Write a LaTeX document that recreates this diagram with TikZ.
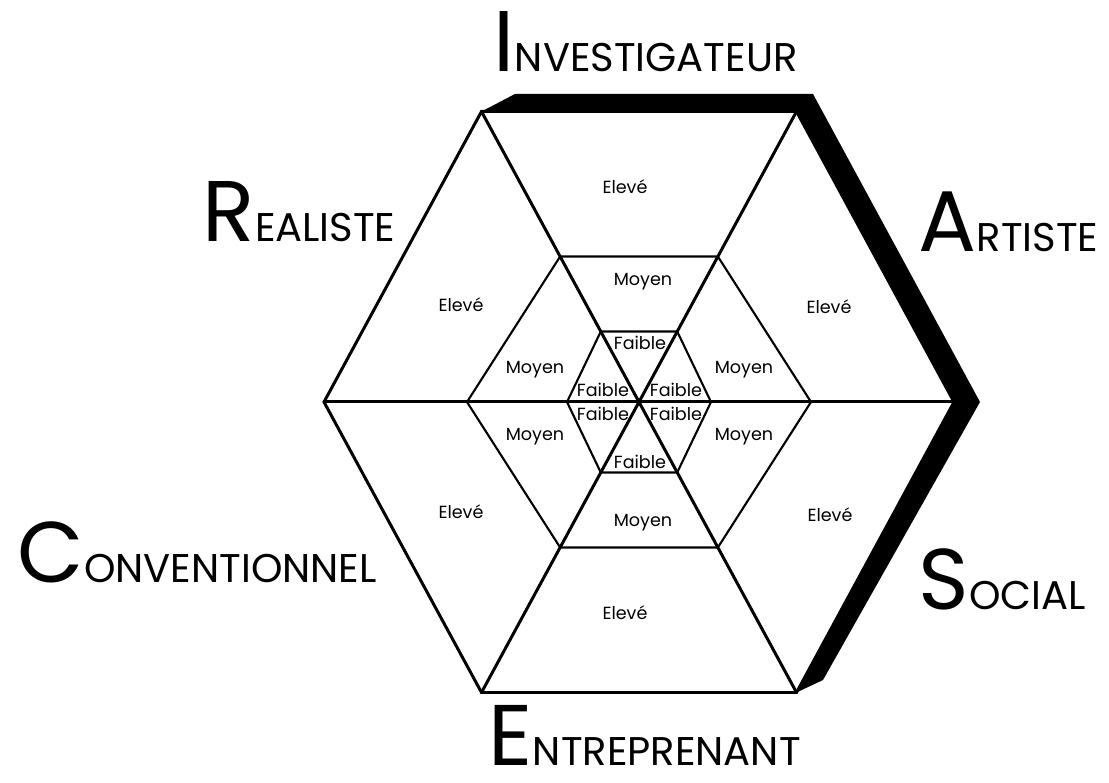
\documentclass[tikz,border=0pt]{standalone}
\usepackage{fontspec}
\setmainfont{Poppins}
\usetikzlibrary{calc}

% type name: large initial, small capitals after it
\newcommand{\typename}[2]{{\fontsize{24.5}{25}\selectfont #1}{\fontsize{11.4}{12}\selectfont #2}}

\begin{document}
\begin{tikzpicture}[
  rim/.style={line width=0.85pt, line join=miter},
  ring/.style={line width=0.6pt, line join=miter},
  band/.style={fill=black},
  lvl/.style={font=\fontsize{5}{6}\selectfont, inner sep=0pt},
  typ/.style={anchor=base west, inner sep=0pt, text depth=0pt},
]
  \useasboundingbox (-6.39,-3.81) rectangle (4.70,4.02);

  % --- thick band along the top and right side -----------------------
  \fill[band] (-1.575,2.905) -- (-1.24,3.08) -- (1.74,3.08) -- (3.41,0)
    -- (1.84,-2.78) -- (1.575,-2.905) -- (3.15,0) -- (1.575,2.905) -- cycle;

  % --- outer hexagon and the three diagonals -------------------------
  \coordinate (w) at (-3.15,0);
  \coordinate (e) at (3.15,0);
  \coordinate (nw) at (-1.575,2.905);
  \coordinate (ne) at (1.575,2.905);
  \coordinate (sw) at (-1.575,-2.905);
  \coordinate (se) at (1.575,-2.905);
  \draw[rim] (w) -- (nw) -- (ne) -- (e) -- (se) -- (sw) -- cycle;
  \foreach \a/\b in {w/e,nw/se,ne/sw}
    \draw[rim] (\a) -- (\b);

  % --- the two inner rings (moyen, faible) ---------------------------
  \foreach \r/\h in {1.72/1.455,0.72/0.705}
    \draw[ring] (-\r,0) -- ({-0.542*\h},\h) -- ({0.542*\h},\h) -- (\r,0)
      -- ({0.542*\h},-\h) -- ({-0.542*\h},-\h) -- cycle;

  % --- level labels ----------------------------------------------------
  \foreach \n/\x/\y in {1/-0.14/2.15,2/-1.78/0.97,3/1.90/0.95,4/-1.78/-1.10,5/1.91/-1.13,6/-0.14/-2.11}
    \node[lvl] (hi\n) at (\x,\y) {Elevé};
  \foreach \n/\x/\y in {1/0.04/1.20,2/-1.04/0.32,3/1.05/0.32,4/-1.04/-0.35,5/1.05/-0.35,6/0.04/-1.21}
    \node[lvl] (mid\n) at (\x,\y) {Moyen};
  \foreach \n/\x/\y in {1/0.01/0.59,2/-0.36/0.12,3/0.37/0.12,4/-0.36/-0.12,5/0.37/-0.12,6/0.01/-0.60}
    \node[lvl] (lo\n) at (\x,\y) {Faible};

  % --- the six types --------------------------------------------------
  \node[typ] (inv) at (-1.46,3.30) {\typename{I}{NVESTIGATEUR}};
  \node[typ] (rea) at (-4.37,1.60) {\typename{R}{EALISTE}};
  \node[typ] (art) at (2.79,1.50) {\typename{A}{RTISTE}};
  \node[typ] (con) at (-6.22,-1.81) {\typename{C}{ONVENTIONNEL}};
  \node[typ] (soc) at (2.79,-2.08) {\typename{S}{OCIAL}};
  \node[typ] (ent) at (-1.51,-3.63) {\typename{E}{NTREPRENANT}};
\end{tikzpicture}
\end{document}
